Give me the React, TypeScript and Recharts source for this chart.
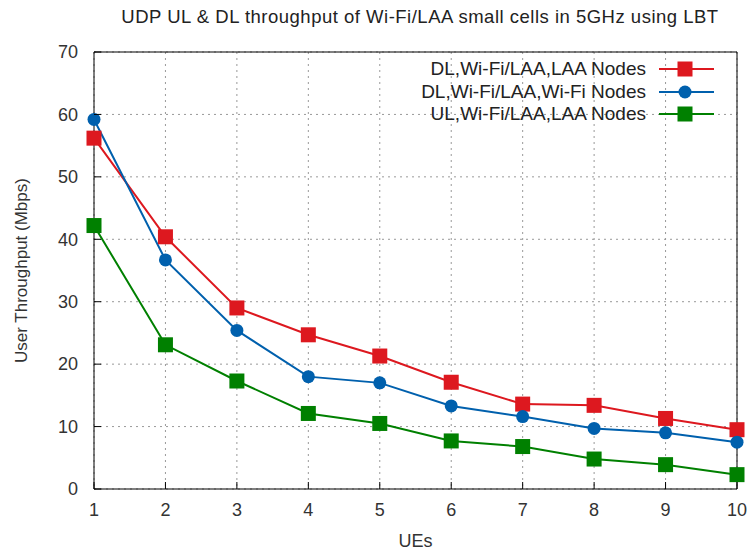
import { CartesianGrid, Line, LineChart, ReferenceArea, XAxis, YAxis } from "recharts";

const ues = [1, 2, 3, 4, 5, 6, 7, 8, 9, 10];
const dlLaaNodes = [56.2, 40.4, 29.0, 24.7, 21.3, 17.1, 13.6, 13.4, 11.3, 9.5];
const dlWifiNodes = [59.2, 36.7, 25.4, 18.0, 17.0, 13.3, 11.6, 9.7, 9.0, 7.5];
const ulLaaNodes = [42.2, 23.1, 17.3, 12.1, 10.5, 7.7, 6.8, 4.8, 3.9, 2.3];
const yTicks = [0, 10, 20, 30, 40, 50, 60, 70];

const RED = "#dd181f";
const BLUE = "#0060ad";
const GREEN = "#008000";
const FONT = "'Liberation Sans', Arial, sans-serif";

const data = ues.map((ue, i) => ({
    ue,
    dlLaa: dlLaaNodes[i],
    dlWifi: dlWifiNodes[i],
    ulLaa: ulLaaNodes[i],
}));

const series = [
    { key: "dlLaa", name: "DL,Wi-Fi/LAA,LAA Nodes", color: RED, shape: "square" },
    { key: "dlWifi", name: "DL,Wi-Fi/LAA,Wi-Fi Nodes", color: BLUE, shape: "circle" },
    { key: "ulLaa", name: "UL,Wi-Fi/LAA,LAA Nodes", color: GREEN, shape: "square" },
];

function makeDot(color: string, shape: string) {
    return (props: any) => {
        const { cx, cy, index } = props;
        if (shape === "circle") {
            return <circle key={index} cx={cx} cy={cy} r={6.5} fill={color} />;
        }
        return <rect key={index} x={cx - 7.5} y={cy - 7.5} width={15} height={15} fill={color} />;
    };
}

const BottomTick = (props: any) => {
    const { x, y, payload } = props;
    return (
        <g>
            <line x1={x} y1={y} x2={x} y2={y - 7} stroke="#000" />
            <text x={x} y={y + 21} dy="0.35em" textAnchor="middle" fontSize={18} fill="#333" fontFamily={FONT}>
                {payload.value}
            </text>
        </g>
    );
};

const LeftTick = (props: any) => {
    const { x, y, payload } = props;
    return (
        <g>
            <line x1={x} y1={y} x2={x + 7} y2={y} stroke="#000" />
            <text x={x - 16} y={y} dy="0.35em" textAnchor="end" fontSize={18} fill="#333" fontFamily={FONT}>
                {payload.value}
            </text>
        </g>
    );
};

const TopTick = (props: any) => {
    const { x, y } = props;
    return <line x1={x} y1={y} x2={x} y2={y + 7} stroke="#000" />;
};

const RightTick = (props: any) => {
    const { x, y } = props;
    return <line x1={x} y1={y} x2={x - 7} y2={y} stroke="#000" />;
};

function LegendBox() {
    return (
        <div style={{ position: "absolute", left: 360, top: 57.6, width: 355, fontFamily: FONT, fontSize: 19, color: "#222" }}>
            {series.map((s) => (
                <div key={s.key} style={{ display: "flex", alignItems: "center", justifyContent: "flex-end", height: 22.7 }}>
                    <span style={{ marginRight: 13 }}>{s.name}</span>
                    <svg width={56} height={16}>
                        <line x1={0} y1={8} x2={55} y2={8} stroke={s.color} strokeWidth={2} />
                        {s.shape === "circle" ? (
                            <circle cx={26} cy={8} r={6.5} fill={s.color} />
                        ) : (
                            <rect x={18.5} y={0.5} width={15} height={15} fill={s.color} />
                        )}
                    </svg>
                </div>
            ))}
        </div>
    );
}

export default function App() {
    return (
        <div style={{ position: "absolute", left: 0, top: 0, width: 750, height: 555, background: "#fff" }}>
            <div
                style={{
                    position: "absolute",
                    top: 6,
                    left: 0,
                    width: 840,
                    textAlign: "center",
                    fontFamily: FONT,
                    fontSize: 18.5,
                    letterSpacing: 0.5,
                    color: "#222",
                    whiteSpace: "nowrap",
                }}
            >
                UDP UL &amp; DL throughput of Wi-Fi/LAA small cells in 5GHz using LBT
            </div>
            <LineChart width={750} height={555} data={data} margin={{ top: 52, right: 13, bottom: 6, left: 10 }}>
                <CartesianGrid stroke="#999" strokeDasharray="2 4" />
                <ReferenceArea x1={1} x2={10} y1={0} y2={70} fill="none" stroke="#000" strokeWidth={1} />
                <XAxis
                    dataKey="ue"
                    type="number"
                    domain={[1, 10]}
                    ticks={ues}
                    height={60}
                    tickSize={0}
                    tickMargin={0}
                    axisLine={false}
                    tick={<BottomTick />}
                    label={{ value: "UEs", position: "insideBottom", offset: 2, fontSize: 18, fill: "#333", fontFamily: FONT }}
                />
                <XAxis
                    xAxisId="top"
                    orientation="top"
                    type="number"
                    domain={[1, 10]}
                    ticks={ues}
                    height={0}
                    tickSize={0}
                    tickMargin={0}
                    axisLine={false}
                    tick={<TopTick />}
                />
                <YAxis
                    type="number"
                    domain={[0, 70]}
                    ticks={yTicks}
                    width={84}
                    tickSize={0}
                    tickMargin={0}
                    axisLine={false}
                    tick={<LeftTick />}
                    label={{
                        value: "User Throughput (Mbps)",
                        angle: -90,
                        position: "insideLeft",
                        offset: 11,
                        style: { textAnchor: "middle" },
                        fontSize: 17,
                        fill: "#333",
                        fontFamily: FONT,
                    }}
                />
                <YAxis
                    yAxisId="right"
                    orientation="right"
                    type="number"
                    domain={[0, 70]}
                    ticks={yTicks}
                    width={0}
                    tickSize={0}
                    tickMargin={0}
                    axisLine={false}
                    tick={<RightTick />}
                />
                {series.map((s) => (
                    <Line
                        key={s.key}
                        dataKey={s.key}
                        name={s.name}
                        stroke={s.color}
                        strokeWidth={2}
                        dot={makeDot(s.color, s.shape)}
                        activeDot={false}
                        isAnimationActive={false}
                    />
                ))}
            </LineChart>
            <LegendBox />
        </div>
    );
}
